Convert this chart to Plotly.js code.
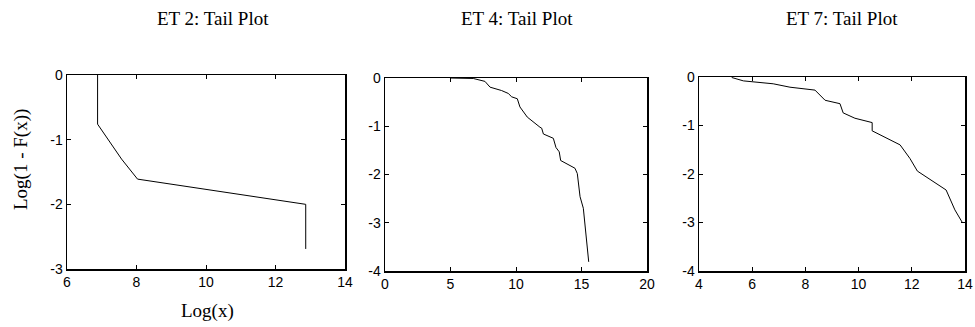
<!DOCTYPE html>
<html>
<head>
<meta charset="utf-8">
<script src="https://cdn.plot.ly/plotly-3.0.1.min.js"></script>
<style>html,body{margin:0;padding:0;background:#fff;}#chart{width:975px;height:327px;}</style>
</head>
<body>
<div id="chart"></div>
<script>
// ET 2
const et2X = [6.88, 6.88, 7.57, 8.03, 12.87, 12.87];
const et2Y = [0, -0.76, -1.30, -1.61, -2.0, -2.69];
// ET 4
const et4X = [4.96, 6.74, 7.63, 8.02, 8.9, 9.41, 9.67, 10.1, 10.3, 10.86, 11.83, 11.96, 12.09, 12.85, 13.05, 13.3, 13.41, 14.5, 14.68, 14.89, 15.14, 15.55];
const et4Y = [0, -0.01, -0.07, -0.19, -0.26, -0.32, -0.39, -0.43, -0.6, -0.81, -1.02, -1.04, -1.16, -1.25, -1.44, -1.53, -1.71, -1.87, -1.98, -2.46, -2.70, -3.81];
// ET 7
const et7X = [5.23, 5.67, 6.79, 7.42, 8.36, 8.55, 8.74, 9.3, 9.42, 9.86, 10.51, 10.51, 11.56, 11.93, 12.21, 13.29, 13.62, 13.91];
const et7Y = [-0.01, -0.08, -0.14, -0.21, -0.27, -0.38, -0.48, -0.55, -0.74, -0.85, -0.94, -1.11, -1.40, -1.68, -1.94, -2.33, -2.74, -3.01];

const titles = ["ET 2: Tail Plot", "ET 4: Tail Plot", "ET 7: Tail Plot"];
const xTickVals = [[6, 8, 10, 12, 14], [0, 5, 10, 15, 20], [4, 6, 8, 10, 12, 14]];
const xTickText = [["6", "8", "10", "12", "14"], ["0", "5", "10", "15", "20"], ["4", "6", "8", "10", "12", "14"]];
const yTickVals = [[-3, -2, -1, 0], [-4, -3, -2, -1, 0], [-4, -3, -2, -1, 0]];
const yTickText = [["-3", "-2", "-1", "0"], ["-4", "-3", "-2", "-1", "0"], ["-4", "-3", "-2", "-1", "0"]];
const xRanges = [[6, 14], [0, 20], [4, 14]];
const yRanges = [[-3, 0], [-4, 0], [-4, 0]];
const xTitle = "Log(x)";
const yTitle = "Log(1 - F(x))";

const W = 975, H = 327;
const boxes = [[67, 345, 75, 269], [385, 647, 78, 271], [699, 965, 77, 271]];
const titleCenters = [213, 517, 842];

const traces = [[et2X, et2Y], [et4X, et4Y], [et7X, et7Y]].map((d, i) => ({
  x: d[0], y: d[1], type: 'scatter', mode: 'lines',
  line: {color: '#000', width: 1},
  xaxis: i === 0 ? 'x' : 'x' + (i + 1),
  yaxis: i === 0 ? 'y' : 'y' + (i + 1),
  showlegend: false, hoverinfo: 'skip'
}));

const layout = {
  width: W, height: H,
  margin: {l: 0, r: 0, t: 0, b: 0},
  paper_bgcolor: '#fff', plot_bgcolor: '#fff',
  showlegend: false,
  annotations: []
};
const tickFont = {family: "'Liberation Sans', Arial, sans-serif", size: 14, color: '#000'};
const serif = "'Liberation Serif', 'Times New Roman', serif";
boxes.forEach((b, i) => {
  const sfx = i === 0 ? '' : String(i + 1);
  layout['xaxis' + sfx] = {
    domain: [b[0] / W, b[1] / W],
    range: xRanges[i], tickmode: 'array', tickvals: xTickVals[i], ticktext: xTickText[i],
    showgrid: false, zeroline: false,
    showline: true, linecolor: '#000', linewidth: 1.5, mirror: 'ticks',
    ticks: 'inside', ticklen: 4, tickcolor: '#000', tickwidth: 1,
    tickfont: tickFont,
    anchor: 'y' + sfx, fixedrange: true
  };
  layout['yaxis' + sfx] = {
    domain: [(H - b[3]) / H, (H - b[2]) / H],
    range: yRanges[i], tickmode: 'array', tickvals: yTickVals[i], ticktext: yTickText[i],
    showgrid: false, zeroline: false,
    showline: true, linecolor: '#000', linewidth: 1.5, mirror: 'ticks',
    ticks: 'inside', ticklen: 4, tickcolor: '#000', tickwidth: 1,
    tickfont: tickFont,
    anchor: 'x' + sfx, fixedrange: true
  };
  layout.annotations.push({
    text: titles[i], xref: 'paper', yref: 'paper',
    x: titleCenters[i] / W, y: (H - 18) / H,
    xanchor: 'center', yanchor: 'middle', showarrow: false,
    font: {family: serif, size: 19, color: '#000'}
  });
});
// axis titles (left panel only)
layout.annotations.push({
  text: xTitle, xref: 'paper', yref: 'paper',
  x: 207 / W, y: (H - 311) / H, xanchor: 'center', yanchor: 'middle', showarrow: false,
  font: {family: serif, size: 19, color: '#000'}
});
layout.annotations.push({
  text: yTitle, xref: 'paper', yref: 'paper', textangle: -90,
  x: 21 / W, y: (H - 160) / H, xanchor: 'center', yanchor: 'middle', showarrow: false,
  font: {family: serif, size: 19, color: '#000'}
});

Plotly.newPlot('chart', traces, layout, {staticPlot: true, displayModeBar: false});
</script>
</body>
</html>
